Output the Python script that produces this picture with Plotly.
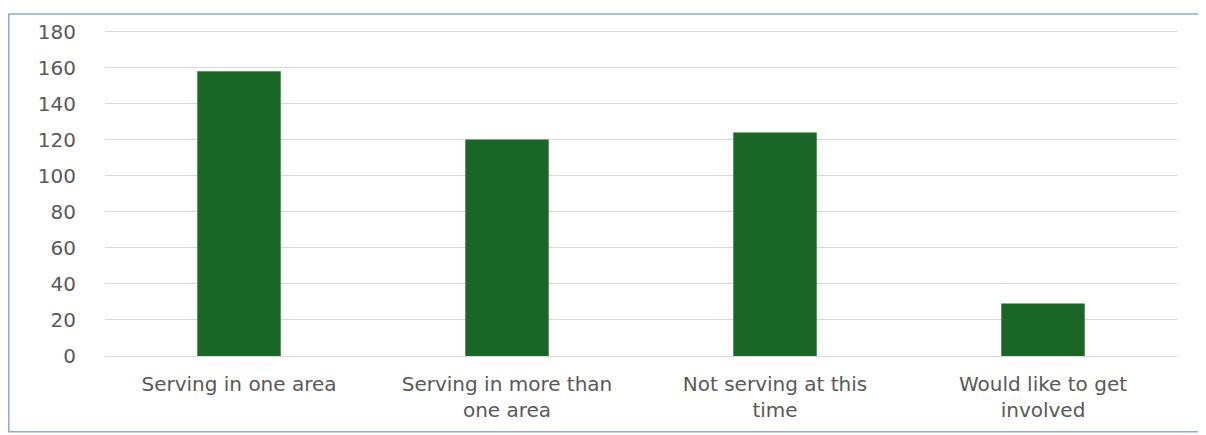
import plotly.graph_objects as go

categories = ["Serving in one area", "Serving in more than<br>one area", "Not serving at this<br>time", "Would like to get<br>involved"]
values = [158, 120, 124, 29]
y_ticks = [0, 20, 40, 60, 80, 100, 120, 140, 160, 180]

# page body has an 8px margin, so the figure is sized to fit the window
W, H = 1198, 427
L, R, T, B = 97, 29, 17, 79
pw, ph = W - L - R, H - T - B

def px_x(p):
    return (p - L) / pw

def px_y(p):
    return (H - B - p) / ph

fig = go.Figure(go.Bar(
    x=categories, y=values,
    marker=dict(color="#1a6626", line=dict(color="#2e7a38", width=0.5)),
    width=0.31,
))

fig.update_layout(
    width=W, height=H,
    margin=dict(l=L, r=R, t=T, b=B),
    paper_bgcolor="white", plot_bgcolor="white",
    font=dict(family="DejaVu Sans, sans-serif", size=20, color="#595959"),
    showlegend=False,
    shapes=[dict(type="rect", xref="paper", yref="paper",
                 x0=px_x(0.8), x1=px_x(1195), y0=px_y(425), y1=px_y(0.8),
                 line=dict(color="#8faadc", width=1.5), fillcolor="rgba(0,0,0,0)")],
)
fig.update_yaxes(range=[0, 181], tickvals=y_ticks, showgrid=True, gridcolor="#d9d9d9",
                 gridwidth=1, zeroline=False, showline=False, ticks="",
                 ticklabelstandoff=28, tickfont=dict(size=20, color="#595959"))
fig.update_xaxes(showline=True, linecolor="#d9d9d9", linewidth=1, ticks="",
                 tickfont=dict(size=20, color="#595959"), ticklabelstandoff=10)

fig.write_html("out.html")
